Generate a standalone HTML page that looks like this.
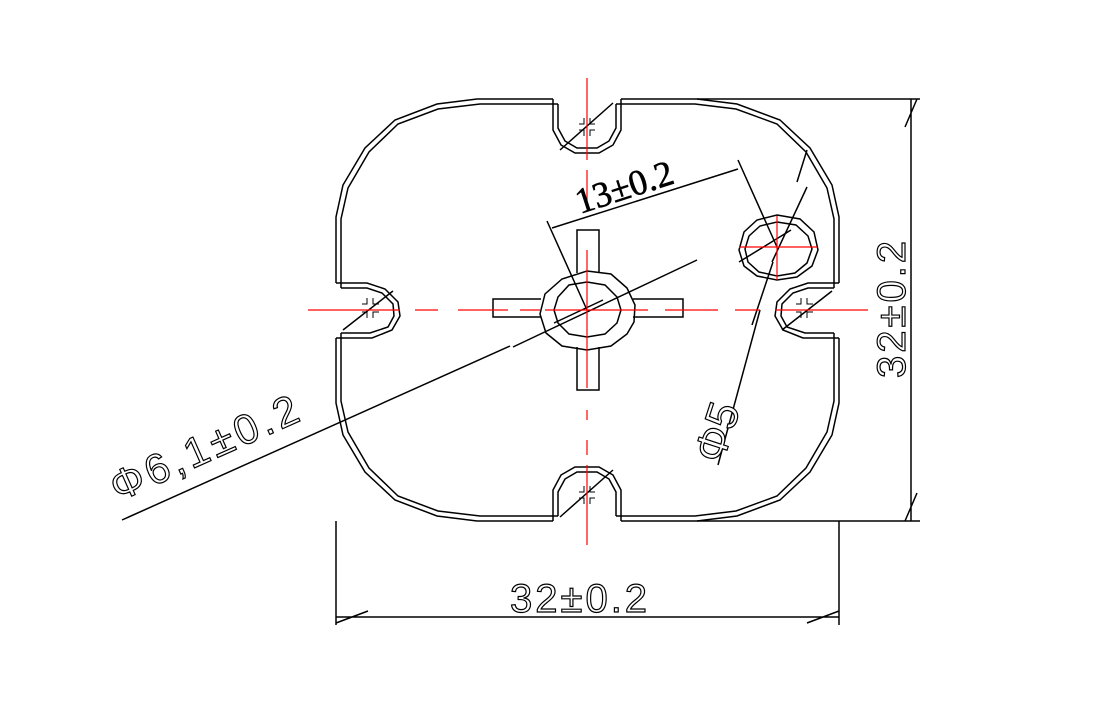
<!DOCTYPE html>
<html><head><style>
html,body{margin:0;padding:0;background:#fff;}
svg{display:block;}
text{font-family:"Liberation Sans",sans-serif;fill:#fff;stroke:#000;stroke-width:1.2;}
</style></head><body>
<svg width="1106" height="724" viewBox="0 0 1106 724" xmlns="http://www.w3.org/2000/svg">
<g fill="none" stroke="#000" stroke-width="1.5">
<!-- outer body -->
<path d="M553,99 L477,99 L437,104 L395,120 L365,148 L343,185 L336,217 L336,283"/>
<path d="M621,99 L697,99 L737,104 L780,120 L810,148 L832,185 L839,217 L839,283"/>
<path d="M553,521 L477,521 L437,516 L395,500 L365,472 L343,435 L336,403 L336,338"/>
<path d="M621,521 L697,521 L737,516 L780,500 L810,472 L832,435 L839,403 L839,338"/>
<path d="M558,104 L480,104 L438,109 L398,124 L369,152 L348,188 L341,219 L341,288"/>
<path d="M616,104 L695,104 L736,109 L777,124 L806,152 L827,188 L834,219 L834,288"/>
<path d="M558,516 L480,516 L438,511 L398,496 L369,468 L348,432 L341,401 L341,333"/>
<path d="M616,516 L695,516 L736,511 L777,496 L806,468 L827,432 L834,401 L834,333"/>
<!-- top slot -->
<path d="M553,99 L553,130 L561,145 L575,153 L599,153 L613,145 L621,130 L621,99"/>
<path d="M558,104 L558,128 L565,141 L577,148 L597,148 L609,141 L616,128 L616,104"/>
<!-- bottom slot -->
<path d="M553,521 L553,490 L561,475 L575,467 L599,467 L613,475 L621,490 L621,521"/>
<path d="M558,516 L558,492 L565,479 L577,472 L597,472 L609,479 L616,492 L616,516"/>
<!-- left slot -->
<path d="M336,283 L367,283 L385,289 L398,302 L400,316 L392,330 L372,338 L336,338"/>
<path d="M341,288 L367,288 L382,293 L393,304 L394,316 L388,327 L370,333 L341,333"/>
<!-- right slot -->
<path d="M839,283 L808,283 L790,289 L777,302 L775,316 L783,330 L803,338 L839,338"/>
<path d="M834,288 L808,288 L793,293 L782,304 L781,316 L787,327 L805,333 L834,333"/>
<!-- cross -->
<path d="M577,273 L577,230 L599,230 L599,273"/>
<path d="M577,347 L577,390 L599,390 L599,347"/>
<path d="M541,299 L493,299 L493,317 L541,317"/>
<path d="M633,299 L683,299 L683,317 L633,317"/>
<!-- hub -->
<path d="M587,271 L611,274 L627,288 L635,305 L634,322 L627,334 L611,346 L587,350 L562,346 L546,333 L540,314 L545,294 L562,279 Z"/>
<path d="M587,282 L605,285 L617,297 L621,310 L617,323 L605,334 L587,337 L569,334 L558,323 L554,310 L558,297 L569,285 Z"/>
<!-- small hole -->
<path d="M777,215 L800,219 L814,232 L818,250 L812,266 L797,277 L777,280 L757,276 L744,266 L739,250 L744,232 L757,220 Z"/>
<path d="M777,222 L796,225 L808,236 L812,249 L807,263 L795,273 L777,276 L759,272 L748,262 L745,249 L749,236 L760,226 Z"/>
<!-- dims -->
<path d="M697,99 L920,99 M697,521 L920,521 M911,99 L911,521 M905,127 L917,99 M905,521 L917,493"/>
<path d="M336,521 L336,625 M839,521 L839,625 M336,617 L839,617 M336,623 L368,611 M807,623 L839,611"/>
<path d="M122,520 L510,346 M513,347 L697,260"/>
<path d="M547,221 L587,310 M738,160 L777,247"/>
<path d="M552,228 L738,169"/>
<path d="M807,150 L797,182 M807,187 L772,262 M773,262 L752,325 M760,310 L718,465"/>
<!-- slot crosses -->
<path d="M560,150 L613,103 M343,330 L393,291 M782,330 L832,291 M560,517 L613,470 M739,262 L791,230 M554,323 L603,300"/>
<path d="M579,124 L584,124 L584,118 M595,124 L590,124 L590,118 M579,130 L584,130 L584,136 M595,130 L590,130 L590,136" stroke-width="1"/>
<path d="M579,492 L584,492 L584,486 M595,492 L590,492 L590,486 M579,498 L584,498 L584,504 M595,498 L590,498 L590,504" stroke-width="1"/>
<path d="M362,304 L367,304 L367,298 M379,304 L373,304 L373,298 M362,312 L367,312 L367,318 M379,312 L373,312 L373,318" stroke-width="1"/>
<path d="M796,304 L801,304 L801,298 M813,304 L807,304 L807,298 M796,312 L801,312 L801,318 M813,312 L807,312 L807,318" stroke-width="1"/>
</g>
<!-- red center lines -->
<g stroke="#f00" stroke-width="1.2" fill="none">
<path d="M587,78 L587,160 M587,170 L587,205 M587,250 L587,388 M587,410 L587,420 M587,440 L587,455 M587,465 L587,545"/>
<path d="M308,310 L400,310 M415,310 L438,310 M458,310 L508,310 M520,310 L540,310 M545,310 L648,310 M665,310 L718,310 M735,310 L760,310 M775,310 L868,310"/>
<path d="M739,247 L817,247 M777,216 L777,280"/>
</g>
<text x="0" y="0" font-size="42" transform="translate(118,502) rotate(-24)" style="letter-spacing:4px">Φ6,1±0.2</text>
<text x="0" y="0" font-size="36" transform="translate(580,214) rotate(-18)" style="fill:#000;stroke-width:0.6;font-family:'Liberation Serif',serif">13±0.2</text>
<text x="0" y="0" font-size="44" transform="translate(722,465) rotate(-72)">Φ5</text>
<text x="0" y="0" font-size="40" transform="translate(905,378) rotate(-90)" style="letter-spacing:3px">32±0.2</text>
<text x="510" y="612" font-size="40" style="letter-spacing:3px">32±0.2</text>
</svg>
</body></html>
